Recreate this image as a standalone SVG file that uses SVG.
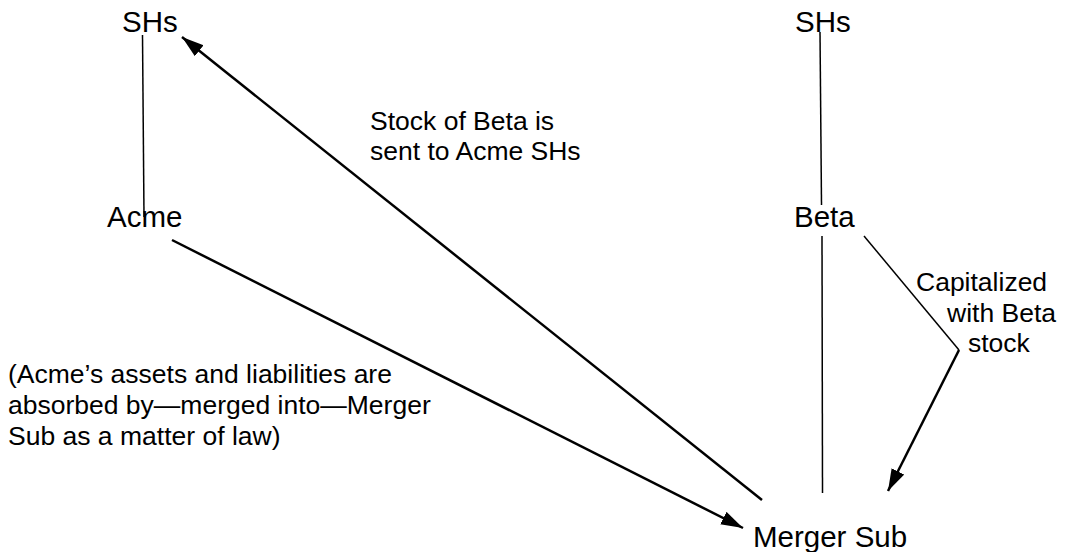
<svg xmlns="http://www.w3.org/2000/svg" width="1065" height="552" viewBox="0 0 1065 552">
<style>
.node{font-family:"Liberation Sans",Arial,sans-serif;font-size:29.5px;fill:#000}
.note{font-family:"Liberation Sans",Arial,sans-serif;font-size:26.5px;fill:#000}
.thin{stroke:#000;stroke-width:1.5;fill:none}
.thick{stroke:#000;stroke-width:2.5;fill:none}
</style>
<defs>
<marker id="ah" markerUnits="userSpaceOnUse" markerWidth="24" markerHeight="16" refX="22" refY="7" orient="auto">
<path d="M0,0 L22,7 L0,14 Z" fill="#000"/>
</marker>
</defs>
<g id="connectors">
<line class="thin" x1="142.5" y1="35" x2="144" y2="217"/>
<line class="thin" x1="820" y1="32" x2="821.5" y2="205"/>
<line class="thin" x1="822" y1="236" x2="822.5" y2="493"/>
<line class="thick" x1="762" y1="500" x2="182" y2="37" marker-end="url(#ah)"/>
<line class="thick" x1="172" y1="240" x2="743" y2="528" marker-end="url(#ah)"/>
<polyline class="thin" points="864,236 959,350"/>
<line class="thick" x1="959" y1="350" x2="888" y2="491" marker-end="url(#ah)"/>
</g>
<g id="shs-left"><text class="node" x="122" y="32">SHs</text></g>
<g id="shs-right"><text class="node" x="795" y="32">SHs</text></g>
<g id="acme"><text class="node" x="107" y="227">Acme</text></g>
<g id="beta"><text class="node" x="794" y="227">Beta</text></g>
<g id="merger-sub"><text class="node" x="753" y="547">Merger Sub</text></g>
<g id="label-stock">
<text class="note" x="370" y="130">Stock of Beta is</text>
<text class="note" x="370" y="160">sent to Acme SHs</text>
</g>
<g id="label-capitalized">
<text class="note" x="916" y="291">Capitalized</text>
<text class="note" x="947" y="322">with Beta</text>
<text class="note" x="968" y="352">stock</text>
</g>
<g id="label-absorbed">
<text class="note" x="8" y="383">(Acme’s assets and liabilities are</text>
<text class="note" x="8" y="414">absorbed by—merged into—Merger</text>
<text class="note" x="8" y="445">Sub as a matter of law)</text>
</g>
</svg>
